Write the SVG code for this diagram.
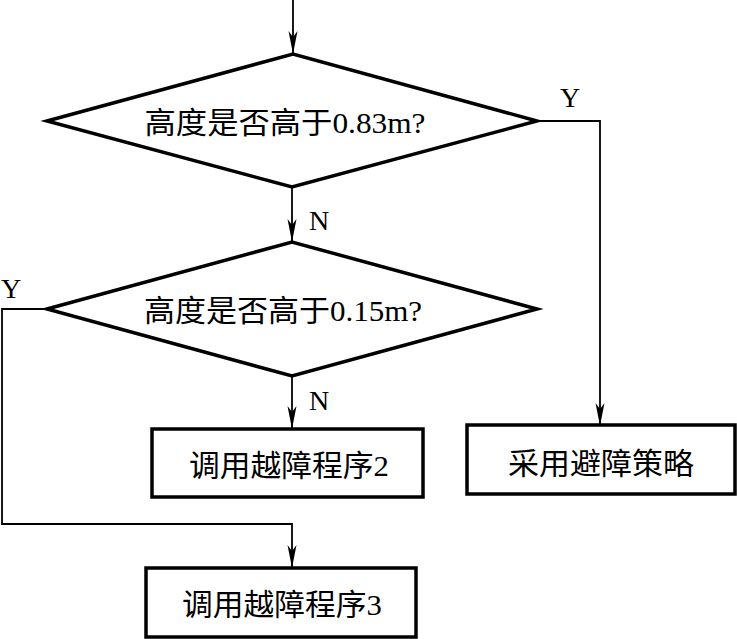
<svg xmlns="http://www.w3.org/2000/svg" width="737" height="639" viewBox="0 0 737 639">
<style>
.shape{fill:#fff;stroke:#000;stroke-width:3.5;stroke-linejoin:miter}
.conn{fill:none;stroke:#000;stroke-width:1.8}
.t{font-family:"Liberation Serif","Noto Sans CJK SC",serif;font-size:30px;fill:#000;text-anchor:middle}
.lbl{font-family:"Liberation Serif",serif;font-size:28px;fill:#000;text-anchor:middle}
</style>
<defs>
<marker id="arr" markerUnits="userSpaceOnUse" markerWidth="26" markerHeight="12" viewBox="-24 -6 26 12" refX="0" refY="0" orient="auto" overflow="visible">
<path d="M0,0 L-23,-4.5 L-17,0 L-23,4.5 Z" fill="#000"/>
</marker>
</defs>
<g id="connectors">
<path class="conn" d="M293,0 V54" marker-end="url(#arr)"/>
<path class="conn" d="M537,121 H600 V426" marker-end="url(#arr)"/>
<path class="conn" d="M292,187 V242" marker-end="url(#arr)"/>
<path class="conn" d="M292,376 V429" marker-end="url(#arr)"/>
<path class="conn" d="M47,309 H2 V524 H292 V568" marker-end="url(#arr)"/>
<text class="lbl" x="570" y="107">Y</text>
<text class="lbl" x="319" y="230">N</text>
<text class="lbl" x="11" y="298">Y</text>
<text class="lbl" x="319" y="410">N</text>
</g>
<g id="d1">
<polygon class="shape" points="47,121 293,54 537,121 292,187"/>
<text class="t" x="285" y="133" textLength="281" lengthAdjust="spacingAndGlyphs">高度是否高于0.83m?</text>
</g>
<g id="d2">
<polygon class="shape" points="47,309 292,242 537,309 292,376"/>
<text class="t" x="283" y="321" textLength="278" lengthAdjust="spacingAndGlyphs">高度是否高于0.15m?</text>
</g>
<g id="b2">
<rect class="shape" x="152" y="429" width="271" height="68"/>
<text class="t" x="289" y="476" textLength="200" lengthAdjust="spacingAndGlyphs">调用越障程序2</text>
</g>
<g id="avoid">
<rect class="shape" x="467" y="425" width="268" height="69"/>
<text class="t" x="601" y="474" textLength="186" lengthAdjust="spacingAndGlyphs">采用避障策略</text>
</g>
<g id="b3">
<rect class="shape" x="146" y="568" width="270" height="69"/>
<text class="t" x="282" y="615" textLength="200" lengthAdjust="spacingAndGlyphs">调用越障程序3</text>
</g>
</svg>
